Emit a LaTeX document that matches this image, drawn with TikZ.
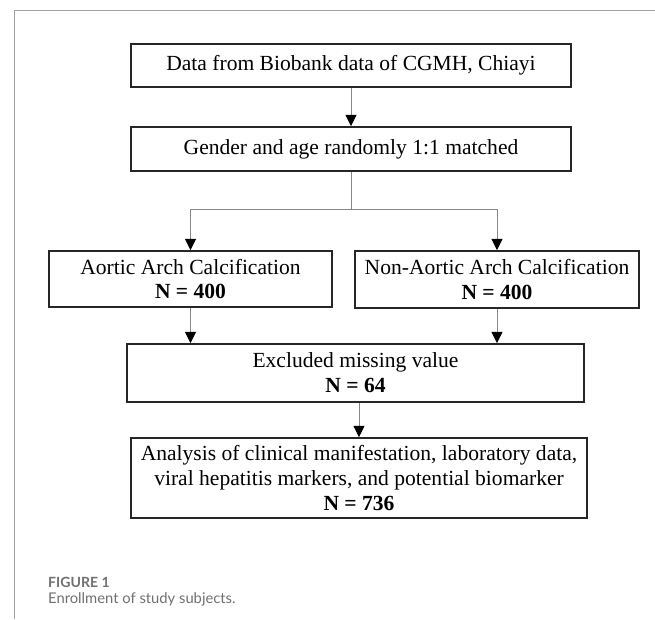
\documentclass[tikz,border=0pt]{standalone}
\usepackage{fontspec}
\setmainfont{Liberation Serif}
\newfontfamily\capfont{Lato}
\usetikzlibrary{arrows.meta}
\definecolor{capgray}{RGB}{112,112,112}
\definecolor{linegray}{RGB}{135,135,135}
\definecolor{framegray}{RGB}{160,160,160}
\tikzset{
  box/.style={draw=black!85,line width=1.3pt,inner sep=0pt,align=center,font=\fontsize{18.4}{21.3}\selectfont},
  arr/.style={draw=linegray,line width=0.8pt,-{Triangle[width=0.33cm,length=0.34cm,black]}},
  link/.style={draw=linegray,line width=0.8pt}
}

\begin{document}
\begin{tikzpicture}[x=0.03cm,y=-0.03cm]
\useasboundingbox (0,0) rectangle (655,619);
\draw[framegray,line width=0.8pt] (655,10)--(14,10)--(14,619);
\coordinate (d) at (351,65.5); \coordinate (g) at (351,149); \coordinate (a) at (190.5,279); \coordinate (n) at (497,279.5); \coordinate (e) at (355.5,373); \coordinate (r) at (359,478); \coordinate (j) at (351,209);
\node[box,minimum width=13.2cm,minimum height=1.29cm] (D) at (d) {Data from Biobank data of CGMH, Chiayi};
\node[box,minimum width=13.2cm,minimum height=1.32cm] (G) at (g) {Gender and age randomly 1:1 matched};
\node[box,minimum width=8.49cm,minimum height=1.68cm] (A) at (a) {Aortic Arch Calcification\\\textbf{N = 400}};
\node[box,minimum width=8.52cm,minimum height=1.71cm] (N) at (n) {Non-Aortic Arch Calcification\\\textbf{N = 400}};
\node[box,minimum width=13.71cm,minimum height=1.74cm] (E) at (e) {Excluded missing value\\\textbf{N = 64}};
\node[box,minimum width=13.68cm,minimum height=2.4cm] (R) at (r) {Analysis of clinical manifestation, laboratory data,\\viral hepatitis markers, and potential biomarker\\\textbf{N = 736}};
\draw[arr] (D)--(G);
\draw[link] (G)--(j);
\draw[arr] (j)-|(A); \draw[arr] (j)-|(N);
\draw[arr] (A)--(A|-E.north); \draw[arr] (N)--(N|-E.north);
\draw[arr] (R|-E.south)--(R);
% caption
\node[anchor=west,text=capgray,font=\capfont\bfseries\fontsize{12}{14}\selectfont,inner sep=0pt] (fig) at (48,582) {FIGURE 1};
\node[anchor=west,text=capgray,font=\capfont\fontsize{12.6}{15}\selectfont,inner sep=0pt] (cap) at (48,599) {Enrollment of study subjects.};
\end{tikzpicture}
\end{document}
